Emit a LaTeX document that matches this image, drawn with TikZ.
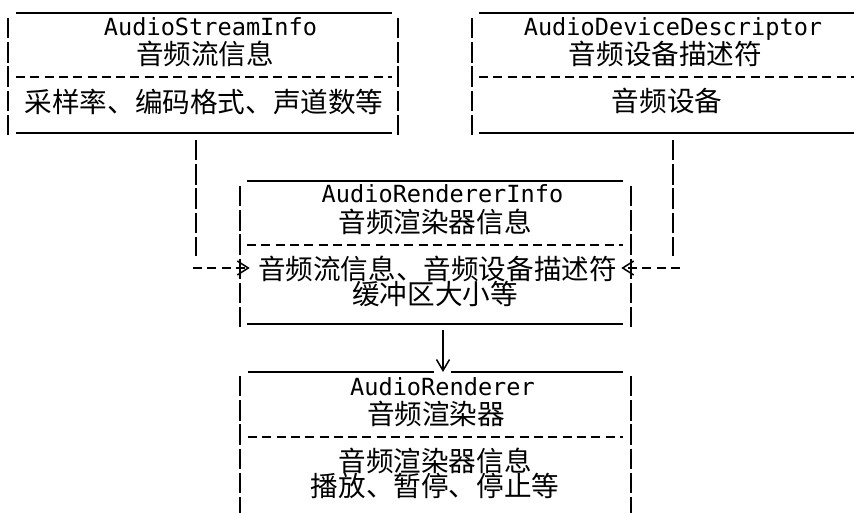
\documentclass[tikz,border=0pt]{standalone}
\usepackage{fontspec}
\setmonofont{DejaVu Sans Mono}
\newfontfamily\cjk{Noto Sans CJK SC}
\usetikzlibrary{arrows.meta}

\begin{document}
\begin{tikzpicture}[x=0.5pt,y=-0.5pt,
  title/.style={font=\ttfamily\fontsize{11.8}{14}\selectfont,inner sep=0pt,text depth=0pt},
  hanzi/.style={font=\cjk\fontsize{13.8}{16}\selectfont,inner sep=0pt},
  bar/.style={line width=0.8pt,dash pattern=on 10.2pt off 1.9pt},
  rule/.style={line width=0.85pt},
  sep/.style={line width=0.75pt,dash pattern=on 4.5pt off 2.65pt},
  feed/.style={line width=0.75pt,dash pattern=on 4.5pt off 2.65pt,-{Straight Barb[length=5.5pt,width=7pt]}},
  drop/.style={line width=0.75pt,-{Straight Barb[length=5.5pt,width=6.5pt]}}]
\useasboundingbox (0,0) rectangle (854,513);
\clip (0,0) rectangle (854,513);
% AudioStreamInfo
\draw [rule] (16,13)-- (392,13);
\draw [bar] (8,18)-- (8,136);
\draw [bar] (398,18)-- (398,136);
\draw [sep] (16,77)-- (392,77);
\draw [rule] (16,133)-- (392,133);
\node [title] (streamTitle) at (210.5,27) {AudioStreamInfo};
\node [hanzi] (streamName) at (205,54) {音频流信息};
\node [hanzi] (streamBody) at (204,102) {采样率、编码格式、声道数等};
% AudioDeviceDescriptor
\draw [rule] (479,13)-- (854,13);
\draw [bar] (472,18)-- (472,136);
\draw [sep] (479,77)-- (854,77);
\draw [rule] (479,133)-- (854,133);
\node [title] (deviceTitle) at (673,27) {AudioDeviceDescriptor};
\node [hanzi] (deviceName) at (665.5,54) {音频设备描述符};
\node [hanzi] (deviceBody) at (667,101) {音频设备};
% AudioRendererInfo
\draw [rule] (247,181)-- (623,181);
\draw [bar] (240,186)-- (240,328);
\draw [bar] (631,186)-- (631,328);
\draw [sep] (247,245)-- (623,245);
\draw [rule] (247,324)-- (623,324);
\node [title] (infoTitle) at (442.5,194) {AudioRendererInfo};
\node [hanzi] (infoName) at (435,222) {音频渲染器信息};
\node [hanzi] (infoBody) at (437.5,269) {音频流信息、音频设备描述符};
\node [hanzi] (infoBuffer) at (435,294) {缓冲区大小等};
% AudioRenderer
\draw [rule] (248,372)-- (434,372);
\draw [rule] (451,372)-- (623,372);
\draw [bar] (240,376)-- (240,513);
\draw [bar] (631,376)-- (631,513);
\draw [sep] (248,437)-- (623,437);
\node [title] (rendererTitle) at (442.5,387) {AudioRenderer};
\node [hanzi] (rendererName) at (436,414) {音频渲染器};
\node [hanzi] (rendererBody) at (435,461) {音频渲染器信息};
\node [hanzi] (rendererOps) at (435,486) {播放、暂停、停止等};
% connectors
\coordinate (streamDrop) at (196,140);
\coordinate (streamTurn) at (196,256);
\coordinate (streamFeed) at (193,268);
\coordinate (deviceDrop) at (673,140);
\coordinate (deviceTurn) at (673,256);
\coordinate (deviceFeed) at (680,268);
\coordinate (infoDrop) at (443,330);
\coordinate (rendererTop) at (443,372);
\draw [bar] (streamDrop)-- (streamTurn);
\draw [feed,shorten >=4pt] (streamFeed)-- (streamFeed -| infoBody.west);
\draw [bar] (deviceDrop)-- (deviceTurn);
\draw [feed,shorten >=2pt] (deviceFeed)-- (deviceFeed -| infoBody.east);
\draw [drop] (infoDrop)-- (rendererTop);
\end{tikzpicture}
\end{document}
